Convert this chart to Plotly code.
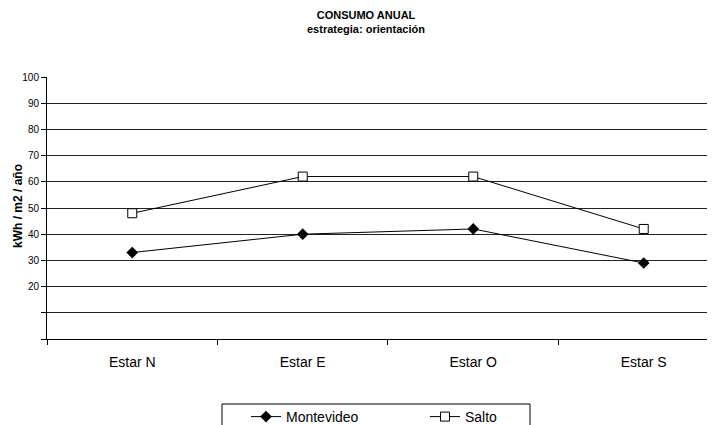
import plotly.graph_objects as go

categories = ["Estar N", "Estar E", "Estar O", "Estar S"]
montevideo = [33, 40, 42, 29]
salto = [48, 62, 62, 42]
y_tick_vals = [0, 10, 20, 30, 40, 50, 60, 70, 80, 90, 100]
y_tick_text = ["", "", "20", "30", "40", "50", "60", "70", "80", "90", "100"]

# page has an 8px body margin; figure sized so it fills the 715x425 window
OFF = 8
W, H = 715 - OFF, 425 - OFF
ML, MT = 47 - OFF, 77 - OFF
MR = 0
MB = H - (339 - OFF)
PW = W - ML - MR
PH = H - MT - MB

def px_x(p):  # page pixel -> paper x
    return (p - OFF - ML) / PW

def px_y(p):  # page pixel -> paper y
    return (H - MB - (p - OFF)) / PH

FONT = "Liberation Sans, Arial, sans-serif"

fig = go.Figure()
fig.add_trace(go.Scatter(
    x=categories, y=montevideo, name="Montevideo", mode="lines+markers",
    line=dict(color="black", width=1),
    marker=dict(symbol="diamond", size=9, color="black", line=dict(color="black", width=0)),
))
fig.add_trace(go.Scatter(
    x=categories, y=salto, name="Salto", mode="lines+markers",
    line=dict(color="black", width=1),
    marker=dict(symbol="square", size=9, color="white", line=dict(color="black", width=1)),
))

fig.update_layout(
    width=W, height=H,
    margin=dict(l=ML, r=MR, t=MT, b=MB, autoexpand=False),
    paper_bgcolor="white", plot_bgcolor="white",
    font=dict(family=FONT, color="black"),
    title=dict(
        text="<b>CONSUMO ANUAL</b><br><b>estrategia: orientación</b>",
        x=(366 - OFF) / W, xref="container", xanchor="center",
        y=1 - (19 - OFF) / H, yref="container", yanchor="middle",
        font=dict(family=FONT, size=11, color="black"),
    ),
    showlegend=True,
    legend=dict(
        orientation="h",
        xref="paper", yref="paper",
        x=px_x(246), xanchor="left",
        y=px_y(417), yanchor="middle",
        font=dict(family=FONT, size=14, color="black"),
        bgcolor="rgba(0,0,0,0)", borderwidth=0,
        entrywidth=134, entrywidthmode="pixels",
    ),
    xaxis=dict(
        type="category", categoryorder="array", categoryarray=categories,
        range=[-0.5, 3.418], tickson="boundaries",
        ticks="outside", ticklen=5, tickcolor="black",
        ticklabelstandoff=10,
        showline=True, linecolor="black", linewidth=1,
        showgrid=False, zeroline=False,
        tickfont=dict(family=FONT, size=14, color="black"),
        fixedrange=True,
    ),
    yaxis=dict(
        range=[0, 100], tickmode="array", tickvals=y_tick_vals, ticktext=y_tick_text,
        ticks="outside", ticklen=5, tickcolor="black",
        showline=True, linecolor="black", linewidth=1,
        showgrid=True, gridcolor="#222222", gridwidth=1, zeroline=False,
        tickfont=dict(family=FONT, size=10, color="black"),
        fixedrange=True,
    ),
    annotations=[dict(
        text="<b>kWh / m2 / año</b>", textangle=-90,
        xref="paper", yref="paper", x=px_x(18), y=px_y(206),
        xanchor="center", yanchor="middle", showarrow=False,
        font=dict(family=FONT, size=12, color="black"),
    )],
    shapes=[dict(
        type="rect", xref="paper", yref="paper",
        x0=px_x(222), x1=px_x(530), y0=px_y(404), y1=px_y(445),
        line=dict(color="black", width=1), fillcolor="rgba(0,0,0,0)",
    )],
)

fig.write_html("out.html")
